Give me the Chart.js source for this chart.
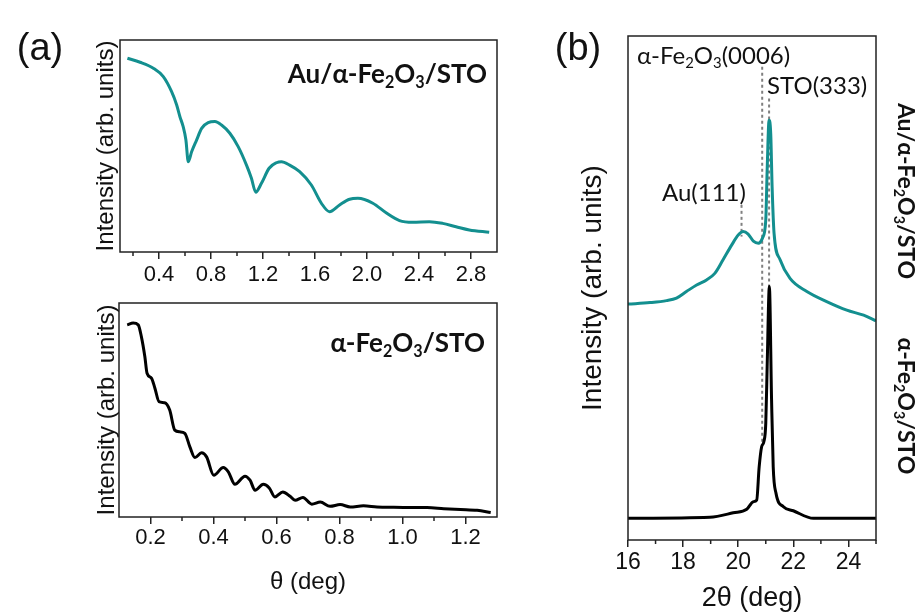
<!DOCTYPE html>
<html lang="en">
<head>
    <meta charset="UTF-8">
    <title>XRR and XRD</title>
    <script src="https://cdn.jsdelivr.net/npm/chart.js"></script>
    <style>
        body { margin: 0; width: 920px; height: 612px; background: #fff; position: relative; overflow: hidden; }
        .box { position: absolute; }
        .lbl { position: absolute; line-height: 1; white-space: nowrap; color: #111; font-family: Lato, sans-serif; }
        .lbl sub { font-size: 0.62em; vertical-align: -0.28em; line-height: 0; }
        .bold { font-weight: bold; }
        .panel { font-family: "Liberation Sans", Arial, sans-serif; font-size: 38px; transform: translate(-50%, -50%); }
    </style>
</head>
<body>
    <div class="box" style="left:60px; top:30px; width:450px; height:270px;"><canvas id="xrrAu"></canvas></div>
    <div class="box" style="left:60px; top:293px; width:450px; height:319px;"><canvas id="xrrFe"></canvas></div>
    <div class="box" style="left:560px; top:20px; width:360px; height:592px;"><canvas id="xrd"></canvas></div>

    <div class="lbl panel" style="left:40px; top:47px;">(a)</div>
    <div class="lbl panel" style="left:578px; top:47px;">(b)</div>

    <div class="lbl bold" style="right:433px; top:73px; font-size:26px; transform:translateY(-50%);">Au/α-Fe<sub>2</sub>O<sub>3</sub>/STO</div>
    <div class="lbl bold" style="right:435px; top:342px; font-size:26px; transform:translateY(-50%);">α-Fe<sub>2</sub>O<sub>3</sub>/STO</div>

    <div class="lbl" style="left:637px; top:55px; font-size:24px; transform:translateY(-50%);">α-Fe<sub>2</sub>O<sub>3</sub>(0006)</div>
    <div class="lbl" style="left:767px; top:85px; font-size:24px; transform:translateY(-50%);">STO(333)</div>
    <div class="lbl" style="left:662px; top:192px; font-size:24px; transform:translateY(-50%);">Au(111)</div>

    <div class="lbl bold" style="left:906px; top:191px; font-size:23px; transform:translate(-50%, -50%) rotate(90deg);">Au/α-Fe<sub>2</sub>O<sub>3</sub>/STO</div>
    <div class="lbl bold" style="left:906px; top:406px; font-size:23px; transform:translate(-50%, -50%) rotate(90deg);">α-Fe<sub>2</sub>O<sub>3</sub>/STO</div>

    <script>
        // XRR, Au/α-Fe2O3/STO (arb. units)
        const thetaAu = [0.157, 0.254, 0.356, 0.433, 0.497, 0.536, 0.561, 0.586, 0.607, 0.625, 0.651, 0.689, 0.728, 0.778, 0.830, 0.881, 0.945, 1.009, 1.073, 1.111, 1.144, 1.188, 1.247, 1.303, 1.342, 1.405, 1.482, 1.572, 1.649, 1.712, 1.789, 1.866, 1.930, 2.045, 2.147, 2.250, 2.352, 2.480, 2.582, 2.685, 2.787, 2.940];
        const xrrAu = [91.4, 89.5, 86.7, 82.7, 75.6, 69.3, 63.8, 59.1, 52.8, 42.6, 47.3, 52.8, 58.3, 61.0, 61.5, 59.9, 56.0, 49.7, 41.0, 34.8, 28.2, 32.4, 39.5, 42.1, 42.6, 41.0, 37.9, 31.6, 23.0, 19.0, 22.2, 24.9, 25.3, 23.0, 18.5, 14.8, 14.0, 14.3, 13.5, 11.9, 10.4, 9.3];

        // XRR, α-Fe2O3/STO
        const thetaFe = [0.126, 0.145, 0.161, 0.171, 0.182, 0.189, 0.203, 0.214, 0.227, 0.245, 0.261, 0.277, 0.293, 0.309, 0.325, 0.341, 0.362, 0.378, 0.401, 0.431, 0.447, 0.468, 0.500, 0.516, 0.532, 0.558, 0.577, 0.595, 0.620, 0.643, 0.659, 0.684, 0.712, 0.739, 0.770, 0.802, 0.834, 0.876, 0.919, 0.972, 1.025, 1.078, 1.131, 1.184, 1.237, 1.280];
        const xrrFe = [89.8, 90.6, 89.8, 84.3, 75.0, 67.2, 64.9, 60.2, 53.9, 53.4, 50.0, 40.6, 39.8, 39.1, 32.8, 27.8, 30.0, 28.1, 19.5, 23.1, 21.1, 15.3, 19.1, 17.2, 12.5, 15.3, 13.6, 9.4, 11.7, 9.7, 7.8, 9.1, 6.0, 7.0, 5.0, 5.8, 4.7, 5.2, 4.7, 4.5, 4.4, 4.4, 3.9, 3.5, 3.1, 2.1];

        // XRD, Au/α-Fe2O3/STO
        const twoThetaAu = [16.0, 16.8, 17.4, 17.76, 18.12, 18.49, 18.85, 19.15, 19.45, 19.76, 20.0, 20.18, 20.36, 20.55, 20.73, 20.88, 21.0, 21.05, 21.12, 21.18, 21.23, 21.30, 21.52, 21.88, 22.49, 23.21, 23.94, 24.55, 25.0];
        const xrdAu = [46.8, 47.1, 47.5, 48.0, 49.3, 50.6, 51.6, 52.9, 55.6, 58.5, 60.5, 61.2, 60.7, 59.3, 58.9, 59.9, 63.5, 73.4, 83.3, 80.6, 70.1, 60.9, 55.6, 51.9, 49.3, 47.3, 45.6, 44.6, 43.5];

        // XRD, α-Fe2O3/STO
        const twoThetaFe = [16.0, 18.97, 19.82, 20.31, 20.55, 20.67, 20.76, 20.85, 20.93, 21.0, 21.05, 21.13, 21.21, 21.27, 21.37, 21.64, 22.0, 22.73, 25.0];
        const xrdFe = [4.3, 4.5, 5.4, 6.1, 7.6, 7.9, 14.5, 18.5, 19.5, 23.2, 34.4, 50.3, 27.8, 14.5, 9.3, 6.6, 5.8, 4.3, 4.3];

        // peak markers: position, top and bottom of the dotted line
        const peakNames = ['Au(111)', 'α-Fe2O3(0006)', 'STO(333)'];
        const peakPos = [20.12, 20.87, 21.12];
        const peakTop = [66.5, 93.9, 87.6];
        const peakBottom = [60.2, 19.2, 50.0];

        // tick labels
        const ticksAu = [0.4, 0.8, 1.2, 1.6, 2.0, 2.4, 2.8];
        const minorAu = [0.2, 0.6, 1.0, 1.4, 1.8, 2.2, 2.6];
        const ticksFe = [0.2, 0.4, 0.6, 0.8, 1.0, 1.2];
        const minorFe = [0.3, 0.5, 0.7, 0.9, 1.1];
        const ticksXrd = [16, 18, 20, 22, 24];
        const minorXrd = [17, 19, 21, 23, 25];

        const teal = '#138f8f';
        const sans = '"Liberation Sans", Arial, sans-serif';

        const pts = (xs, ys) => xs.map((x, i) => ({ x: x, y: ys[i] }));

        // box round the plot area + short minor ticks
        const framePlugin = {
            id: 'frame',
            afterDraw(chart, args, opts) {
                const { ctx, chartArea: a } = chart;
                const x = chart.scales.x;
                ctx.save();
                ctx.strokeStyle = '#222';
                ctx.lineWidth = 1.5;
                ctx.strokeRect(a.left, a.top, a.right - a.left, a.bottom - a.top);
                (opts.minor || []).forEach(v => {
                    const px = x.getPixelForValue(v);
                    ctx.beginPath();
                    ctx.moveTo(px, a.bottom);
                    ctx.lineTo(px, a.bottom + 4);
                    ctx.stroke();
                });
                ctx.restore();
            }
        };

        function xAxis(min, max, ticks, opt) {
            return {
                type: 'linear', min: min, max: max,
                afterBuildTicks: s => { s.ticks = ticks.map(v => ({ value: v })); },
                afterFit: s => { s.height = opt.height; },
                border: { display: false },
                grid: { drawOnChartArea: false, tickLength: 7, color: '#222', lineWidth: 1.5 },
                ticks: {
                    color: '#111', padding: opt.pad, maxRotation: 0,
                    font: { family: sans, size: opt.size },
                    callback: v => opt.fmt(v)
                },
                title: opt.title ? {
                    display: true, text: opt.title, color: '#111',
                    font: { family: sans, size: opt.titleSize, lineHeight: opt.titleLH },
                    padding: { top: 0, bottom: opt.titlePad }
                } : { display: false }
            };
        }

        function yAxis(width, size, pad) {
            return {
                min: 0, max: 100,
                afterFit: s => { s.width = width; },
                border: { display: false },
                grid: { display: false },
                ticks: { display: false },
                title: {
                    display: true, text: 'Intensity (arb. units)', color: '#111',
                    font: { family: sans, size: size },
                    padding: { top: pad, bottom: 0 }
                }
            };
        }

        function lineSet(data, color) {
            return {
                data: data, borderColor: color, borderWidth: 3, pointRadius: 0,
                fill: false, cubicInterpolationMode: 'monotone'
            };
        }

        const common = {
            responsive: true, maintainAspectRatio: false, animation: false,
            plugins: { legend: { display: false }, tooltip: { enabled: false } }
        };

        new Chart(document.getElementById('xrrAu'), {
            type: 'line',
            data: { datasets: [lineSet(pts(thetaAu, xrrAu), teal)] },
            options: {
                ...common,
                layout: { padding: { top: 10, right: 13, left: 0, bottom: 0 } },
                plugins: { ...common.plugins, frame: { minor: minorAu } },
                scales: {
                    x: xAxis(0.1, 3.0, ticksAu, { height: 48, pad: 3, size: 22, fmt: v => v.toFixed(1) }),
                    y: yAxis(60, 24, 31.6)
                }
            },
            plugins: [framePlugin]
        });

        new Chart(document.getElementById('xrrFe'), {
            type: 'line',
            data: { datasets: [lineSet(pts(thetaFe, xrrFe), '#000')] },
            options: {
                ...common,
                layout: { padding: { top: 10, right: 13, left: 0, bottom: 0 } },
                plugins: { ...common.plugins, frame: { minor: minorFe } },
                scales: {
                    x: xAxis(0.1, 1.3, ticksFe, {
                        height: 95, pad: 1, size: 22, fmt: v => v.toFixed(1),
                        title: 'θ (deg)', titleSize: 24, titleLH: 1.2, titlePad: 15.6
                    }),
                    y: yAxis(59, 24, 32.6)
                }
            },
            plugins: [framePlugin]
        });

        const markerSets = peakPos.map((p, i) => ({
            label: peakNames[i],
            data: [{ x: p, y: peakTop[i] }, { x: p, y: peakBottom[i] }],
            borderColor: '#808080', borderWidth: 2, borderDash: [3, 3],
            pointRadius: 0, fill: false
        }));

        new Chart(document.getElementById('xrd'), {
            type: 'line',
            data: {
                datasets: [
                    lineSet(pts(twoThetaAu, xrdAu), teal),
                    lineSet(pts(twoThetaFe, xrdFe), '#000'),
                    ...markerSets
                ]
            },
            options: {
                ...common,
                layout: { padding: { top: 16, right: 44, left: 0, bottom: 0 } },
                plugins: { ...common.plugins, frame: { minor: minorXrd } },
                scales: {
                    x: xAxis(16, 25, ticksXrd, {
                        height: 72, pad: 2, size: 23, fmt: v => String(v),
                        title: '2θ (deg)', titleSize: 27, titleLH: 1.0, titlePad: 0
                    }),
                    y: yAxis(68, 28, 16.2)
                }
            },
            plugins: [framePlugin]
        });
    </script>
</body>
</html>
